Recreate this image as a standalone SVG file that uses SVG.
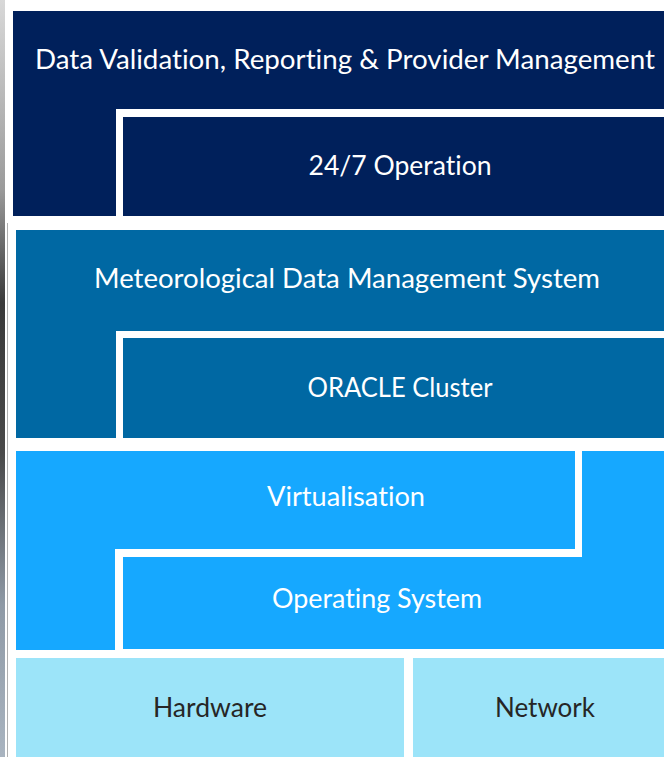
<svg xmlns="http://www.w3.org/2000/svg" width="664" height="757" viewBox="0 0 664 757">
  <defs>
    <linearGradient id="photo" x1="0" y1="0" x2="0" y2="1">
      <stop offset="0" stop-color="#d8d8d8"/>
      <stop offset="0.25" stop-color="#9a9a9a"/>
      <stop offset="0.4" stop-color="#3a3a3a"/>
      <stop offset="0.6" stop-color="#4a4a4a"/>
      <stop offset="0.8" stop-color="#8f9aa6"/>
      <stop offset="1" stop-color="#a9b4c0"/>
    </linearGradient>
  </defs>
  <style>
    .navy { fill: #00205B; }
    .teal { fill: #0068A3; }
    .sky { fill: #16A8FF; }
    .pale { fill: #9CE4F9; }
    .lbl { font-family: Lato, "Liberation Sans", sans-serif; font-size: 26px; text-anchor: middle; fill: #ffffff; font-variant-ligatures: none; font-feature-settings: "liga" 0, "clig" 0; }
    .dark { fill: #262626; }
  </style>
  <rect x="0" y="0" width="664" height="757" fill="#ffffff"/>
  <rect x="0" y="0" width="5" height="757" fill="url(#photo)"/>
  <line x1="7.5" y1="223" x2="7.5" y2="757" stroke="#b0b0b0" stroke-width="1"/>

  <g id="data-validation">
    <path class="navy" d="M13,11 H664 V109 H116 V216 H13 Z"/>
    <text class="lbl" x="345" y="69" textLength="620" lengthAdjust="spacingAndGlyphs">Data Validation, Reporting &amp; Provider Management</text>
  </g>
  <g id="operation-24-7">
    <rect class="navy" x="123" y="117" width="541" height="99"/>
    <text class="lbl" x="400" y="175" textLength="183" lengthAdjust="spacingAndGlyphs">24/7 Operation</text>
  </g>
  <g id="mdms">
    <path class="teal" d="M16,230 H664 V331 H116 V438 H16 Z"/>
    <text class="lbl" x="347" y="288" textLength="506" lengthAdjust="spacingAndGlyphs">Meteorological Data Management System</text>
  </g>
  <g id="oracle-cluster">
    <rect class="teal" x="123" y="338" width="541" height="100"/>
    <text class="lbl" x="400" y="397" textLength="185" lengthAdjust="spacingAndGlyphs">ORACLE Cluster</text>
  </g>
  <g id="virtualisation">
    <path class="sky" d="M16,451 H575 V549 H115 V650 H16 Z"/>
    <text class="lbl" x="346" y="506" textLength="158" lengthAdjust="spacingAndGlyphs">Virtualisation</text>
  </g>
  <g id="operating-system">
    <path class="sky" d="M582,451 H664 V649 H123 V557 H582 Z"/>
    <text class="lbl" x="377" y="608" textLength="210" lengthAdjust="spacingAndGlyphs">Operating System</text>
  </g>
  <g id="hardware">
    <rect class="pale" x="16" y="658" width="388" height="99"/>
    <text class="lbl dark" x="210" y="717" textLength="114" lengthAdjust="spacingAndGlyphs">Hardware</text>
  </g>
  <g id="network">
    <rect class="pale" x="413" y="658" width="251" height="99"/>
    <text class="lbl dark" x="545" y="717" textLength="100" lengthAdjust="spacingAndGlyphs">Network</text>
  </g>
  <g id="connectors"/>
</svg>
